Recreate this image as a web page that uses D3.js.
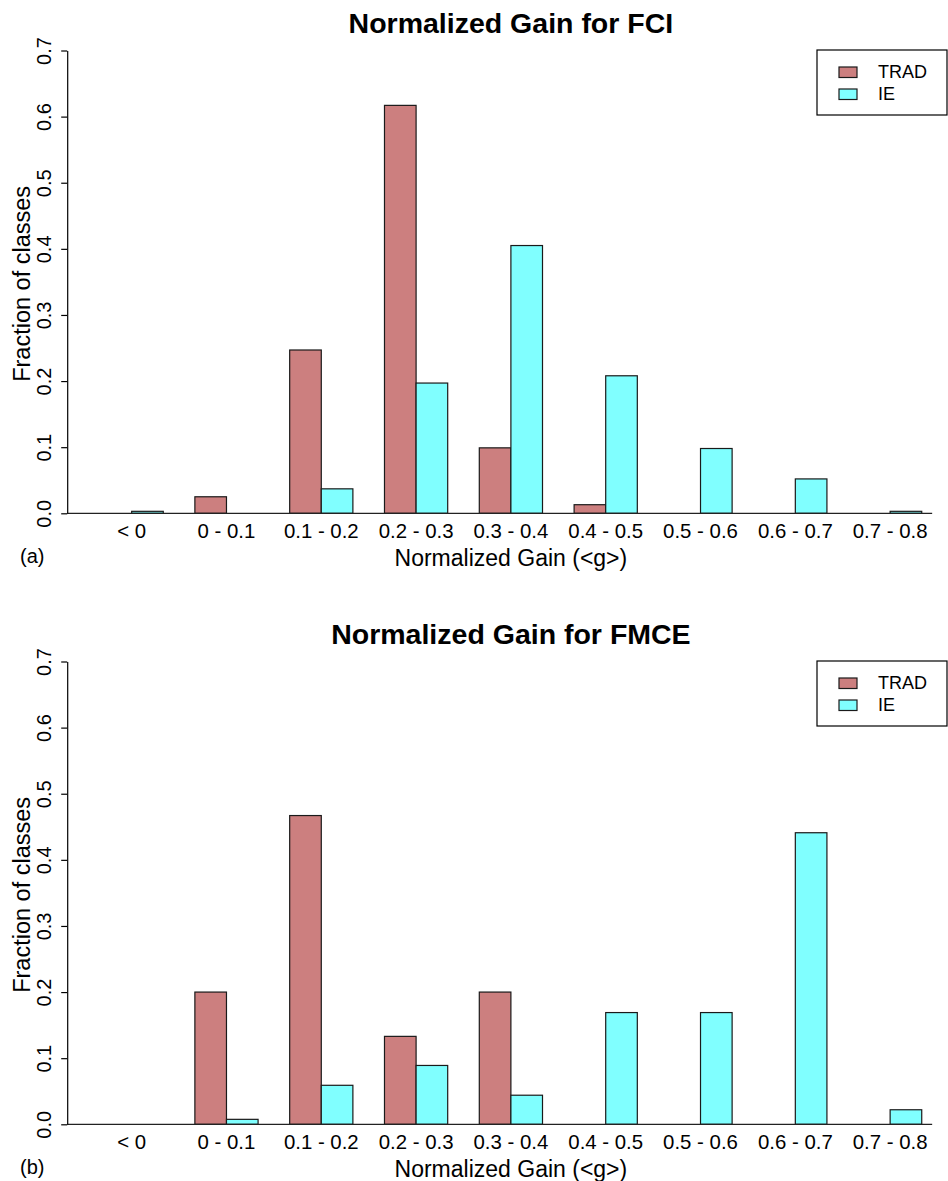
<!DOCTYPE html>
<html>
<head>
<meta charset="utf-8">
<script src="https://cdn.jsdelivr.net/npm/d3@7"></script>
<style>
  html, body { margin: 0; padding: 0; background: #fff; }
  svg { display: block; font-family: "Liberation Sans", Arial, Helvetica, sans-serif; }
</style>
</head>
<body>
<svg id="chart" width="948" height="1181"></svg>
<script>
// ---- data ----
const categories = ["< 0", "0 - 0.1", "0.1 - 0.2", "0.2 - 0.3", "0.3 - 0.4", "0.4 - 0.5", "0.5 - 0.6", "0.6 - 0.7", "0.7 - 0.8"];
const seriesNames = ["TRAD", "IE"];
const seriesColors = ["#cc7f7f", "#80ffff"];
const yTicks = [0, 0.1, 0.2, 0.3, 0.4, 0.5, 0.6, 0.7];

const fciTrad = [0, 0.025, 0.247, 0.617, 0.099, 0.013, 0, 0, 0];
const fciIE   = [0.003, 0, 0.037, 0.197, 0.405, 0.208, 0.098, 0.052, 0.003];
const fmceTrad = [0, 0.200, 0.467, 0.133, 0.200, 0, 0, 0, 0];
const fmceIE   = [0, 0.0075, 0.059, 0.089, 0.044, 0.169, 0.169, 0.441, 0.022];

const panels = [
  { title: "Normalized Gain for FCI",  tag: "(a)", series: [fciTrad, fciIE],   dy: 0 },
  { title: "Normalized Gain for FMCE", tag: "(b)", series: [fmceTrad, fmceIE], dy: 611 }
];

const svg = d3.select("#chart");

// R-style barplot units: group g, series s occupies [1+3g+s, 2+3g+s]
const x = d3.scaleLinear().domain([-0.04, 28.04]).range([67.2, 954.6]);

panels.forEach(p => {
  const g = svg.append("g").attr("transform", `translate(0,${p.dy})`);
  const y = d3.scaleLinear().domain([0, 0.7]).range([513.3, 50.5]);

  // title
  g.append("text")
    .attr("x", x(14)).attr("y", 33)
    .attr("text-anchor", "middle")
    .attr("font-weight", "bold")
    .attr("font-size", 28.5)
    .text(p.title);

  // bars
  p.series.forEach((vals, s) => {
    g.selectAll(null)
      .data(vals.map((v, i) => ({ v, i })).filter(d => d.v > 0))
      .enter().append("rect")
      .attr("x", d => x(1 + 3 * d.i + s))
      .attr("width", d => x(2 + 3 * d.i + s) - x(1 + 3 * d.i + s))
      .attr("y", d => y(d.v))
      .attr("height", d => y(0) - y(d.v))
      .attr("fill", seriesColors[s])
      .attr("stroke", "#1a1a1a")
      .attr("stroke-width", 1.2);
  });

  // baseline
  g.append("line")
    .attr("x1", x(-0.04)).attr("x2", x(27.33))
    .attr("y1", y(0)).attr("y2", y(0))
    .attr("stroke", "#222").attr("stroke-width", 1.2);

  // y axis
  const yAxis = d3.axisLeft(y).tickValues(yTicks).tickFormat(d3.format(".1f")).tickSize(6).tickSizeOuter(0);
  const ya = g.append("g").attr("transform", `translate(${x(-0.04)},0)`).call(yAxis);
  ya.select(".domain").attr("stroke", "#000").attr("stroke-width", 1.2);
  ya.selectAll(".tick line").attr("stroke", "#000").attr("stroke-width", 1.2);
  ya.selectAll(".tick text")
    .attr("font-size", 20)
    .attr("font-family", "Liberation Sans, Arial, sans-serif")
    .attr("fill", "#000")
    .attr("x", null).attr("dy", null)
    .attr("text-anchor", "middle")
    .attr("transform", "translate(-16,0) rotate(-90)");

  // x category labels (centered under groups)
  const xb = d3.scaleBand().domain(categories).range([x(0.5), x(27.5)]);
  const xa = g.append("g").attr("transform", `translate(0,${y(0)})`)
    .call(d3.axisBottom(xb).tickSize(0).tickPadding(0));
  xa.select(".domain").remove();
  xa.selectAll(".tick text")
    .attr("font-size", 20.4)
    .attr("font-family", "Liberation Sans, Arial, sans-serif")
    .attr("fill", "#000")
    .attr("y", 25).attr("dy", null);

  // x axis title
  g.append("text")
    .attr("x", x(14)).attr("y", 566)
    .attr("text-anchor", "middle")
    .attr("font-size", 23)
    .text("Normalized Gain (<g>)");

  // y axis title
  g.append("text")
    .attr("transform", `translate(30,${(y(0) + y(0.7)) / 2 + 2}) rotate(-90)`)
    .attr("text-anchor", "middle")
    .attr("font-size", 23.5)
    .text("Fraction of classes");

  // panel tag
  g.append("text")
    .attr("x", 20).attr("y", 563)
    .attr("font-size", 20)
    .text(p.tag);

  // legend
  const lg = g.append("g");
  lg.append("rect")
    .attr("x", 817).attr("y", 50).attr("width", 130).attr("height", 65)
    .attr("fill", "#fff").attr("stroke", "#000").attr("stroke-width", 1.2);
  seriesNames.forEach((name, s) => {
    lg.append("rect")
      .attr("x", 839).attr("y", 67 + s * 22).attr("width", 18).attr("height", 10.5)
      .attr("fill", seriesColors[s]).attr("stroke", "#1a1a1a").attr("stroke-width", 1.2);
    lg.append("text")
      .attr("x", 878).attr("y", 72 + s * 22).attr("dy", "0.35em")
      .attr("font-size", 18)
      .text(name);
  });
});
</script>
</body>
</html>
